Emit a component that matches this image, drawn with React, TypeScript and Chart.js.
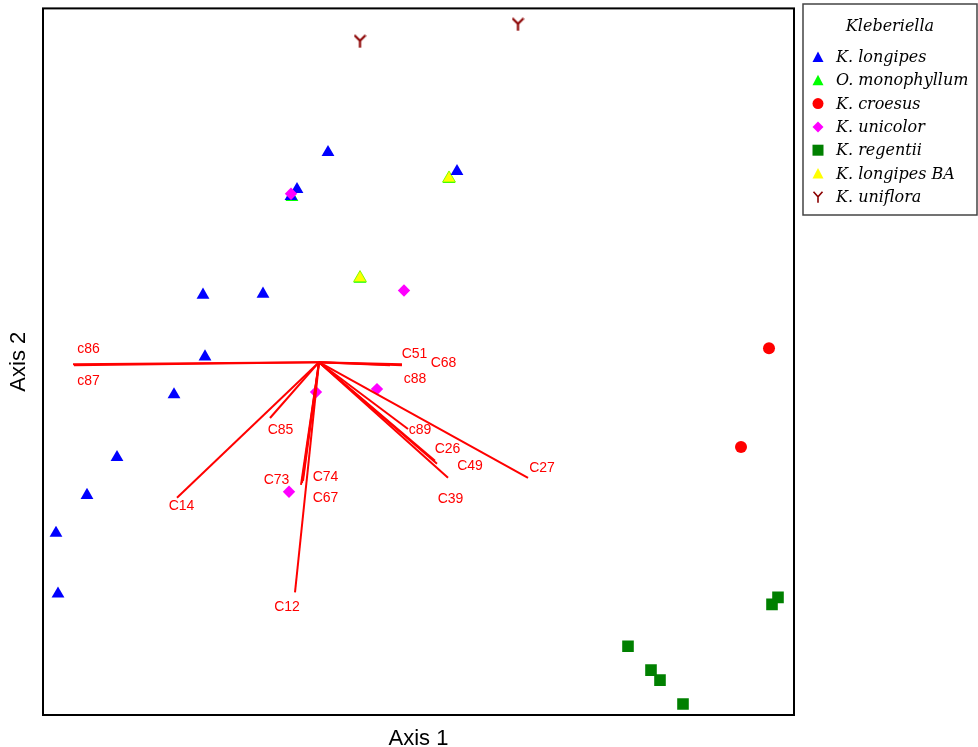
import React, { useEffect, useRef } from 'react';
import { Chart, registerables } from 'chart.js';

Chart.register(...registerables);

// ---- Data (ordination scores, unitless) ----
const kLongipes: [number, number][] = [
  [0.09, 2.105], [-0.22, 1.735], [-0.28, 1.665], [1.38, 1.915], [-1.16, 0.675], [-0.56, 0.685],
  [-1.14, 0.055], [-1.45, -0.325], [-2.02, -0.955], [-2.32, -1.335], [-2.63, -1.715], [-2.61, -2.325],
];
const oMonophyllum: [number, number][] = [[1.3, 1.835], [0.41, 0.835], [-0.27, 1.655]];
const kCroesus: [number, number][] = [[4.5, 0.14], [4.22, -0.85]];
const kUnicolor: [number, number][] = [[-0.28, 1.69], [0.85, 0.72], [0.58, -0.27], [-0.03, -0.3], [-0.3, -1.3]];
const kRegentii: [number, number][] = [
  [4.59, -2.36], [4.53, -2.43], [3.09, -2.85], [3.32, -3.09], [3.41, -3.19], [3.64, -3.43],
];
const kLongipesBA: [number, number][] = [[1.3, 1.845], [0.41, 0.845]];
const kUniflora: [number, number][] = [[0.41, 3.22], [1.99, 3.39]];

const vectorNames = ['c86', 'c87', 'C51', 'C68', 'c88', 'C85', 'C14', 'C73', 'C74', 'C67', 'C12', 'c89', 'C26', 'C49', 'C39', 'C27'];
const vectorEnds: [number, number][] = [
  [-2.46, -0.02], [-2.45, -0.03], [0.83, -0.02], [0.83, -0.03], [0.71, -0.03], [-0.49, -0.56],
  [-1.42, -1.36], [-0.18, -1.23], [-0.16, -1.19], [-0.17, -1.21], [-0.24, -2.31], [0.89, -0.67],
  [1.16, -0.99], [1.18, -1.02], [1.29, -1.16], [2.09, -1.16],
];
const vectorLabelPos: [number, number][] = [
  [-2.305, 0.13], [-2.305, -0.19], [0.955, 0.08], [1.245, -0.01], [0.96, -0.17], [-0.385, -0.68],
  [-1.375, -1.44], [-0.425, -1.18], [0.065, -1.15], [0.065, -1.36], [-0.32, -2.46], [1.01, -0.68],
  [1.285, -0.87], [1.51, -1.04], [1.315, -1.37], [2.23, -1.06],
];
const vectorOrigin: [number, number] = [0, 0];

const legendTitle = 'Kleberiella';
const seriesNames = ['K. longipes', 'O. monophyllum', 'K. croesus', 'K. unicolor', 'K. regentii', 'K. longipes BA', 'K. uniflora'];
const seriesColors = ['#0000ff', '#00ff00', '#ff0000', '#ff00ff', '#008000', '#ffff00', '#8b0000'];
const seriesShapes = ['triangle', 'triangle', 'circle', 'diamond', 'square', 'triangle', 'y'];

const xTitle = 'Axis 1';
const yTitle = 'Axis 2';

function makeYMarker(color: string): HTMLCanvasElement {
  const c = document.createElement('canvas');
  c.width = 13;
  c.height = 14;
  const ctx = c.getContext('2d')!;
  ctx.strokeStyle = color;
  ctx.lineWidth = 2.2;
  ctx.beginPath();
  ctx.moveTo(1, 1);
  ctx.lineTo(6.5, 6.5);
  ctx.lineTo(12, 1);
  ctx.moveTo(6.5, 6.5);
  ctx.lineTo(6.5, 13.5);
  ctx.stroke();
  return c;
}

function drawShape(ctx: CanvasRenderingContext2D, shape: string, color: string, x: number, y: number) {
  ctx.save();
  ctx.fillStyle = color;
  ctx.strokeStyle = color;
  ctx.beginPath();
  if (shape === 'triangle') {
    ctx.moveTo(x, y - 5.5);
    ctx.lineTo(x + 5.5, y + 5);
    ctx.lineTo(x - 5.5, y + 5);
    ctx.closePath();
    ctx.fill();
  } else if (shape === 'circle') {
    ctx.arc(x, y, 5.5, 0, Math.PI * 2);
    ctx.fill();
  } else if (shape === 'diamond') {
    ctx.moveTo(x, y - 5.5);
    ctx.lineTo(x + 5.5, y);
    ctx.lineTo(x, y + 5.5);
    ctx.lineTo(x - 5.5, y);
    ctx.closePath();
    ctx.fill();
  } else if (shape === 'square') {
    ctx.fillRect(x - 5.5, y - 5.5, 11, 11);
  } else if (shape === 'y') {
    ctx.lineWidth = 1.6;
    ctx.moveTo(x - 4.5, y - 5);
    ctx.lineTo(x, y);
    ctx.lineTo(x + 4.5, y - 5);
    ctx.moveTo(x, y);
    ctx.lineTo(x, y + 6);
    ctx.stroke();
  }
  ctx.restore();
}

const overlayPlugin = {
  id: 'overlay',
  afterDatasetsDraw(chart: any) {
    const { ctx, chartArea, scales } = chart;
    ctx.save();
    ctx.font = '14px "Liberation Sans", Arial, sans-serif';
    ctx.fillStyle = '#ff0000';
    ctx.textAlign = 'center';
    ctx.textBaseline = 'middle';
    vectorNames.forEach((n, i) => {
      const px = scales.x.getPixelForValue(vectorLabelPos[i][0]);
      const py = scales.y.getPixelForValue(vectorLabelPos[i][1]);
      ctx.fillText(n, px, py);
    });
    ctx.strokeStyle = '#000';
    ctx.lineWidth = 2;
    ctx.strokeRect(chartArea.left, chartArea.top, chartArea.right - chartArea.left, chartArea.bottom - chartArea.top);
    ctx.restore();
  },
  afterDraw(chart: any) {
    const { ctx, chartArea } = chart;
    ctx.save();
    const lx = chartArea.right + 9;
    const ly = 4;
    const lw = 977 - lx;
    const lh = 211;
    ctx.strokeStyle = '#444';
    ctx.lineWidth = 1.5;
    ctx.strokeRect(lx, ly, lw, lh);
    ctx.fillStyle = '#000';
    ctx.font = 'italic 16px "DejaVu Serif", serif';
    ctx.textAlign = 'center';
    ctx.textBaseline = 'middle';
    ctx.fillText(legendTitle, lx + lw / 2, 27);
    ctx.textAlign = 'left';
    seriesNames.forEach((n, i) => {
      const y = 57 + i * 23.3;
      drawShape(ctx, seriesShapes[i], seriesColors[i], lx + 15, y);
      ctx.fillStyle = '#000';
      ctx.fillText(n, lx + 33, y + 1);
    });
    ctx.restore();
  },
};

const toPts = (arr: [number, number][]) => arr.map(([x, y]) => ({ x, y }));

export default function App() {
  const ref = useRef<HTMLCanvasElement>(null);
  useEffect(() => {
    document.body.style.margin = '0';
    const yMarker = makeYMarker(seriesColors[6]);
    const pointSets: [number, number][][] = [kLongipes, oMonophyllum, kCroesus, kUnicolor, kRegentii, kLongipesBA, kUniflora];
    const styles = ['triangle', 'triangle', 'circle', 'rectRot', 'rect', 'triangle', yMarker];
    const radii = [7.4, 7.4, 6, 6.2, 8.2, 7.4, 7];
    const orders = [1, 3, 1, 0, 1, 2, 1];
    const pointDatasets = pointSets.map((arr, i) => ({
      label: seriesNames[i],
      data: toPts(arr),
      pointStyle: styles[i] as any,
      pointRadius: radii[i],
      pointHoverRadius: radii[i],
      backgroundColor: seriesColors[i],
      borderColor: i === 5 ? '#80ff00' : seriesColors[i],
      pointBorderWidth: i === 5 ? 1 : 0,
      showLine: false,
      order: orders[i],
    }));
    const vectorDatasets = vectorNames.map((n, i) => ({
      label: n,
      data: toPts([vectorOrigin, vectorEnds[i]]),
      showLine: true,
      borderColor: '#ff0000',
      borderWidth: 2,
      pointRadius: 0,
      pointHoverRadius: 0,
      fill: false,
      order: -1,
    }));
    const chart = new Chart(ref.current!, {
      type: 'scatter',
      data: { datasets: [...pointDatasets, ...vectorDatasets] as any },
      options: {
        animation: false,
        responsive: false,
        devicePixelRatio: 1,
        layout: { padding: { left: 0, top: 6, right: 184, bottom: 0 } },
        plugins: { legend: { display: false }, tooltip: { enabled: false } },
        scales: {
          x: {
            type: 'linear',
            min: -2.76,
            max: 4.75,
            ticks: { display: false },
            grid: { display: false },
            border: { display: false },
            title: {
              display: true,
              text: xTitle,
              color: '#000',
              font: { family: '"Liberation Sans", Arial, sans-serif', size: 22 },
              padding: { top: 0, bottom: -5 },
            },
            afterFit: (s: any) => { s.height = 32; },
          },
          y: {
            type: 'linear',
            min: -3.54,
            max: 3.55,
            ticks: { display: false },
            grid: { display: false },
            border: { display: false },
            title: {
              display: true,
              text: yTitle,
              color: '#000',
              font: { family: '"Liberation Sans", Arial, sans-serif', size: 22 },
              padding: { top: 6, bottom: 0 },
            },
            afterFit: (s: any) => { s.width = 43; },
          },
        },
      } as any,
      plugins: [overlayPlugin],
    });
    return () => chart.destroy();
  }, []);
  return (
    <div style={{ width: 978, height: 747 }}>
      <canvas ref={ref} width={978} height={747} style={{ display: 'block' }} />
    </div>
  );
}
